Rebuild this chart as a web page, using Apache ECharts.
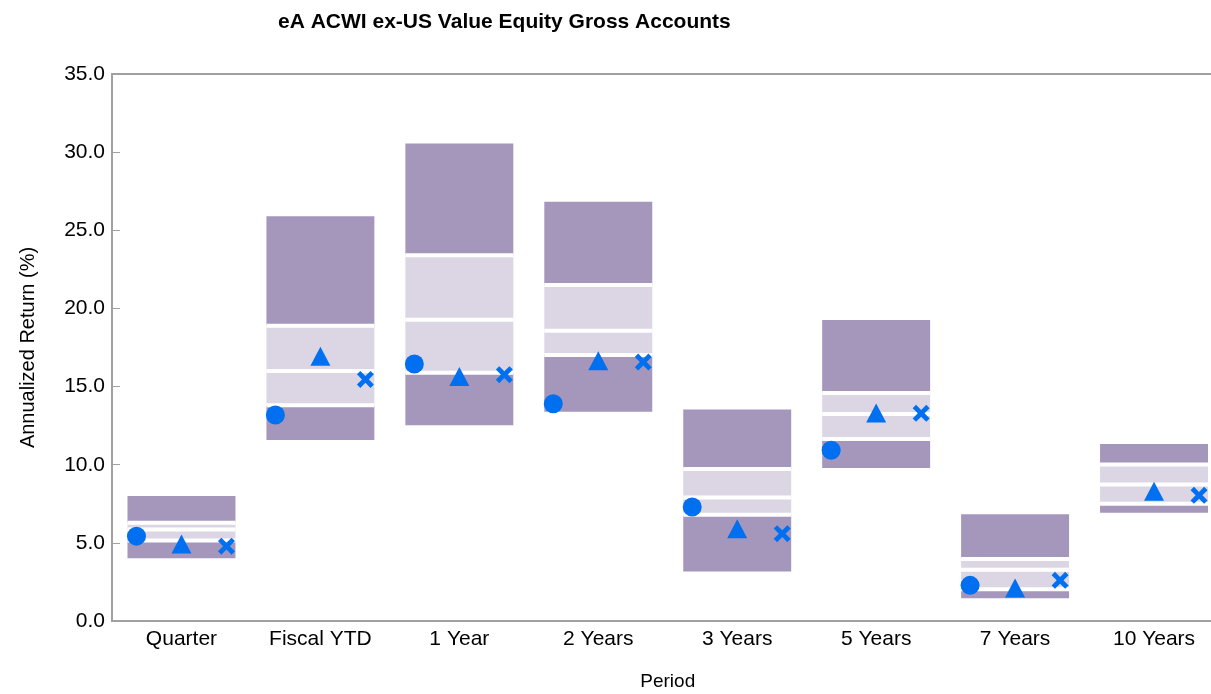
<!DOCTYPE html>
<html>
<head>
<meta charset="utf-8">
<title>eA ACWI ex-US Value Equity Gross Accounts</title>
<script src="https://cdn.jsdelivr.net/npm/echarts@6/dist/echarts.min.js"></script>
<style>
  html, body { margin: 0; padding: 0; background: #fff; overflow: hidden; }
  #chart { width: 1211px; height: 694px; }
</style>
</head>
<body>
<div id="chart"></div>
<script>
// Periods on the x axis
const periods = ['Quarter', 'Fiscal YTD', '1 Year', '2 Years', '3 Years', '5 Years', '7 Years', '10 Years'];

// Universe percentile breakpoints (annualized return, %)
const p5  = [4.01, 11.58, 12.52, 13.39, 3.16,  9.79, 1.45,  6.93];
const p25 = [5.15, 13.81, 15.89, 17.02, 6.80, 11.64, 2.03,  7.50];
const p50 = [5.85, 16.00, 19.28, 18.57, 7.90, 13.24, 3.28,  8.73];
const p75 = [6.28, 18.89, 23.40, 21.50, 9.72, 14.59, 3.97, 10.02];
const p95 = [8.00, 25.90, 30.56, 26.83, 13.54, 19.26, 6.83, 11.33];

// Marker series
const circleValues   = [5.43, 13.18, 16.44, 13.90, 7.29, 10.92, 2.28, null];
const triangleValues = [4.93, 16.94, 15.65, 16.65, 5.90, 13.31, 2.11, 8.30];
const crossValues    = [4.79, 15.46, 15.76, 16.57, 5.59, 13.29, 2.60, 8.04];

// Value axis ticks
const yMin = 0, yMax = 35, yStep = 5;

const DARK = '#A596BC';
const LIGHT = '#DCD6E4';
const BLUE = '#0070F0';
const AXIS = '#A0A0A0';
const FONT = '"Liberation Sans", Arial, sans-serif';
const CROSS_PATH = 'path://M0,4 L4,0 L10,6 L16,0 L20,4 L14,10 L20,16 L16,20 L10,14 L4,20 L0,16 L6,10 Z';

const boxData = periods.map((p, i) => [i, p5[i], p25[i], p50[i], p75[i], p95[i]]);

// Floating percentile box: dark outer bands, light inner bands, white breaks
function renderBox(params, api) {
  const idx = api.value(0);
  const cx = api.coord([idx, 0])[0];
  const w = api.size([1, 0])[0] * 0.777;
  const x0 = cx - w / 2;
  const y = k => api.coord([idx, api.value(k)])[1];
  const y5 = y(1), y25 = y(2), y50 = y(3), y75 = y(4), y95 = y(5);
  const rect = (top, bottom, fill) => ({
    type: 'rect',
    shape: { x: x0, y: top, width: w, height: bottom - top },
    style: { fill: fill }
  });
  const line = yy => ({
    type: 'line',
    shape: { x1: x0, y1: yy, x2: x0 + w, y2: yy },
    style: { stroke: '#fff', lineWidth: 4 }
  });
  return {
    type: 'group',
    children: [
      rect(y95, y75, DARK),
      rect(y75, y25, LIGHT),
      rect(y25, y5, DARK),
      line(y75), line(y50), line(y25)
    ]
  };
}

const chart = echarts.init(document.getElementById('chart'), null, { renderer: 'canvas' });

chart.setOption({
  animation: false,
  backgroundColor: '#fff',
  title: {
    text: 'eA ACWI ex-US Value Equity Gross Accounts',
    left: 273,
    top: 7,
    textStyle: {
      fontFamily: FONT,
      fontSize: 21,
      fontWeight: 'bold',
      color: '#000'
    }
  },
  grid: {
    left: 112,
    top: 74,
    width: 1111.5,
    bottom: 73,
    outerBoundsMode: 'none',
    containLabel: false,
    show: true,
    borderColor: AXIS,
    borderWidth: 2
  },
  xAxis: {
    type: 'category',
    data: periods,
    name: 'Period',
    nameLocation: 'middle',
    nameGap: 51,
    nameTextStyle: { fontFamily: FONT, fontSize: 19, color: '#000' },
    axisLine: { show: true, lineStyle: { color: AXIS, width: 2 } },
    axisTick: { show: false },
    axisLabel: {
      margin: 8,
      fontFamily: FONT,
      fontSize: 21,
      color: '#000'
    },
    splitLine: { show: false }
  },
  yAxis: {
    type: 'value',
    min: yMin,
    max: yMax,
    interval: yStep,
    name: 'Annualized Return (%)',
    nameLocation: 'middle',
    nameRotate: 90,
    nameGap: 74,
    nameTextStyle: { fontFamily: FONT, fontSize: 20, color: '#000' },
    axisLine: { show: true, lineStyle: { color: AXIS, width: 2 } },
    axisTick: { show: true, inside: true, length: 8, lineStyle: { color: AXIS, width: 1 } },
    axisLabel: {
      margin: 7,
      formatter: v => v.toFixed(1),
      fontFamily: FONT,
      fontSize: 21,
      color: '#000'
    },
    splitLine: { show: false }
  },
  series: [
    {
      type: 'custom',
      renderItem: renderBox,
      encode: { x: 0, y: [1, 2, 3, 4, 5] },
      data: boxData,
      z: 1
    },
    {
      type: 'scatter',
      data: circleValues,
      symbol: 'circle',
      symbolSize: 19,
      symbolOffset: [-45, 0],
      itemStyle: { color: BLUE, opacity: 1 },
      z: 3
    },
    {
      type: 'scatter',
      data: triangleValues,
      symbol: 'triangle',
      symbolSize: [20, 19],
      symbolOffset: [0, 0],
      itemStyle: { color: BLUE, opacity: 1 },
      z: 3
    },
    {
      type: 'scatter',
      data: crossValues,
      symbol: CROSS_PATH,
      symbolSize: 17,
      symbolOffset: [45, 0],
      itemStyle: { color: BLUE, opacity: 1 },
      z: 3
    }
  ]
});
</script>
</body>
</html>
